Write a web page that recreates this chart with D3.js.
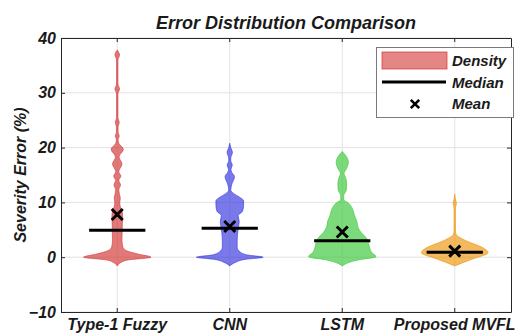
<!DOCTYPE html>
<html>
<head>
<meta charset="utf-8">
<script src="https://cdn.jsdelivr.net/npm/d3@7/dist/d3.min.js"></script>
<style>
  html, body { margin: 0; padding: 0; background: #fff; }
  svg { display: block; }
  text { font-family: "Liberation Sans", Arial, sans-serif; font-weight: bold; font-style: italic; fill: #1a1a1a; }
</style>
</head>
<body>
<svg id="chart" width="517" height="336"></svg>
<script>
// Categories and summary statistics
const categories = ["Type-1 Fuzzy", "CNN", "LSTM", "Proposed MVFL"];
const medians = [4.9, 5.3, 3.0, 0.9];
const means = [7.8, 5.6, 4.6, 1.1];
const yTicks = [-10, 0, 10, 20, 30, 40];

// Kernel density profiles: [error value (%), relative density]
const densityFuzzy = [
  [-1.6, 0], [-1.0, 0.1], [-0.5, 0.32], [0, 1.0], [0.6, 0.6], [1.3, 0.24], [2.0, 0.16],
  [3.2, 0.14], [4.5, 0.145], [6.0, 0.15], [7.2, 0.16], [8.2, 0.15], [9.2, 0.09],
  [10.0, 0.075], [10.8, 0.09], [11.5, 0.065], [12.3, 0.047], [13.2, 0.097], [14.0, 0.047],
  [14.8, 0.106], [15.6, 0.044], [17.0, 0.14], [18.3, 0.053], [19.7, 0.18], [20.8, 0.044],
  [21.5, 0.024], [22.1, 0.06], [22.8, 0.024], [23.8, 0.024], [24.6, 0.06], [25.4, 0.02],
  [29.8, 0.02], [30.7, 0.068], [31.6, 0.02], [36.0, 0.02], [36.9, 0.068], [37.8, 0]
];
const densityCNN = [
  [-1.6, 0], [-1.0, 0.15], [-0.4, 0.45], [0, 0.99], [0.4, 0.53], [1.0, 0.3], [1.8, 0.22],
  [3.0, 0.22], [4.2, 0.23], [5.2, 0.25], [6.5, 0.28], [7.6, 0.25], [8.4, 0.38], [9.5, 0.41],
  [10.3, 0.41], [11.0, 0.28], [11.6, 0.12], [12.3, 0.03], [13.3, 0.06], [14.7, 0.14],
  [15.5, 0.06], [16.0, 0.035], [16.8, 0.075], [17.6, 0.03], [18.1, 0.03], [19.1, 0.08],
  [20.0, 0.03], [20.8, 0]
];
const densityLSTM = [
  [-1.6, 0], [-1.0, 0.18], [-0.5, 0.47], [0.1, 1.0], [0.8, 0.88], [2.0, 0.8], [3.0, 0.76],
  [3.6, 0.7], [4.5, 0.56], [5.4, 0.47], [6.6, 0.43], [7.5, 0.37], [9.0, 0.29], [9.9, 0.18],
  [10.5, 0.045], [11.3, 0.045], [12.2, 0.12], [13.5, 0.13], [14.5, 0.1], [15.3, 0.053],
  [16.2, 0.13], [17.3, 0.18], [18.4, 0.12], [19.3, 0]
];
const densityMVFL = [
  [-1.6, 0], [-1.0, 0.24], [-0.2, 0.59], [0.8, 0.99], [1.9, 0.78], [2.8, 0.41], [3.5, 0.18],
  [4.1, 0.045], [5.0, 0.02], [9.0, 0.02], [9.8, 0.05], [10.6, 0.02], [11.5, 0]
];
const densities = [densityFuzzy, densityCNN, densityLSTM, densityMVFL];

// Styling
const fillColors = ["rgb(211,51,51)", "rgb(52,52,222)", "rgb(56,199,56)", "rgb(236,148,12)"];
const axisColor = "#262626";
const gridColor = "#e3e3e3";

const svg = d3.select("#chart");
const plot = { left: 61, right: 511, top: 38, bottom: 312 };

const x = d3.scaleBand().domain(categories).range([plot.left, plot.right]).padding(0);
const y = d3.scaleLinear().domain([-10, 40]).range([plot.bottom, plot.top]);
const halfWidth = d3.scaleLinear().domain([0, 1]).range([0, x.bandwidth() * 0.3]);
const cx = c => x(c) + x.bandwidth() / 2;

// Grid
const grid = svg.append("g");
grid.selectAll("line.h").data(yTicks).join("line")
  .attr("x1", plot.left).attr("x2", plot.right)
  .attr("y1", d => y(d)).attr("y2", d => y(d))
  .attr("stroke", gridColor).attr("stroke-width", 1);
grid.selectAll("line.v").data(categories).join("line")
  .attr("x1", d => cx(d)).attr("x2", d => cx(d))
  .attr("y1", plot.top).attr("y2", plot.bottom)
  .attr("stroke", gridColor).attr("stroke-width", 1);

// Violins
categories.forEach((c, i) => {
  const area = d3.area()
    .curve(d3.curveMonotoneY)
    .y(d => y(d[0]))
    .x0(d => cx(c) - halfWidth(d[1]))
    .x1(d => cx(c) + halfWidth(d[1]));
  svg.append("path")
    .datum(densities[i])
    .attr("d", area)
    .attr("fill", fillColors[i])
    .attr("fill-opacity", 0.66)
    .attr("stroke", fillColors[i])
    .attr("stroke-opacity", 0.75)
    .attr("stroke-width", 0.8);
});

// Medians
svg.selectAll("line.median").data(categories).join("line")
  .attr("x1", d => cx(d) - x.bandwidth() * 0.25)
  .attr("x2", d => cx(d) + x.bandwidth() * 0.25)
  .attr("y1", (d, i) => y(medians[i]))
  .attr("y2", (d, i) => y(medians[i]))
  .attr("stroke", "#000").attr("stroke-width", 3);

// Means
function cross(g, px, py, r, w) {
  g.append("path")
    .attr("d", `M${px - r},${py - r}L${px + r},${py + r}M${px - r},${py + r}L${px + r},${py - r}`)
    .attr("stroke", "#000").attr("stroke-width", w).attr("fill", "none");
}
categories.forEach((c, i) => cross(svg, cx(c), y(means[i]), 5.5, 3));

// Axes (box with inward ticks)
const axes = svg.append("g");
const axLeft = axes.append("g").attr("transform", `translate(${plot.left},0)`)
  .call(d3.axisLeft(y).tickValues(yTicks).tickSizeInner(-4).tickSizeOuter(0).tickPadding(4));
const axRight = axes.append("g").attr("transform", `translate(${plot.right},0)`)
  .call(d3.axisRight(y).tickValues(yTicks).tickSizeInner(-4).tickSizeOuter(0).tickFormat(""));
const axTop = axes.append("g").attr("transform", `translate(0,${plot.top})`)
  .call(d3.axisTop(x).tickSizeInner(-4).tickSizeOuter(0).tickFormat(""));
const axBottom = axes.append("g").attr("transform", `translate(0,${plot.bottom})`)
  .call(d3.axisBottom(x).tickSizeInner(-4).tickSizeOuter(0).tickPadding(3));
[axLeft, axRight, axTop, axBottom].forEach(g => {
  g.select(".domain").attr("stroke", axisColor);
  g.selectAll(".tick line").attr("stroke", axisColor);
  g.selectAll("text").attr("font-size", 16).attr("fill", "#1a1a1a")
    .attr("font-family", "Liberation Sans, Arial, sans-serif")
    .attr("font-weight", "bold").attr("font-style", "italic");
});
axLeft.selectAll("text").attr("x", -5);
axBottom.selectAll("text").attr("dy", "0.95em");

// Title and axis label
svg.append("text").attr("x", (plot.left + plot.right) / 2).attr("y", 29)
  .attr("text-anchor", "middle").attr("font-size", 18)
  .text("Error Distribution Comparison");
svg.append("text")
  .attr("transform", `translate(26,${(plot.top + plot.bottom) / 2}) rotate(-90)`)
  .attr("text-anchor", "middle").attr("font-size", 16)
  .text("Severity Error (%)");

// Legend
const lg = svg.append("g");
lg.append("rect").attr("x", 376.5).attr("y", 47.5).attr("width", 137).attr("height", 70)
  .attr("fill", "#fff").attr("stroke", "#7a7a7a").attr("stroke-width", 1);
lg.append("rect").attr("x", 382).attr("y", 52).attr("width", 65).attr("height", 17)
  .attr("fill", fillColors[0]).attr("fill-opacity", 0.6)
  .attr("stroke", fillColors[0]).attr("stroke-opacity", 0.7);
lg.append("line").attr("x1", 382).attr("x2", 446).attr("y1", 82).attr("y2", 82)
  .attr("stroke", "#000").attr("stroke-width", 3);
cross(lg, 415, 104, 4.2, 2.6);
const legendLabels = ["Density", "Median", "Mean"];
lg.selectAll("text.lbl").data(legendLabels).join("text")
  .attr("x", 452).attr("y", (d, i) => 66 + i * 21.5)
  .attr("font-size", 15).text(d => d);
</script>
</body>
</html>
